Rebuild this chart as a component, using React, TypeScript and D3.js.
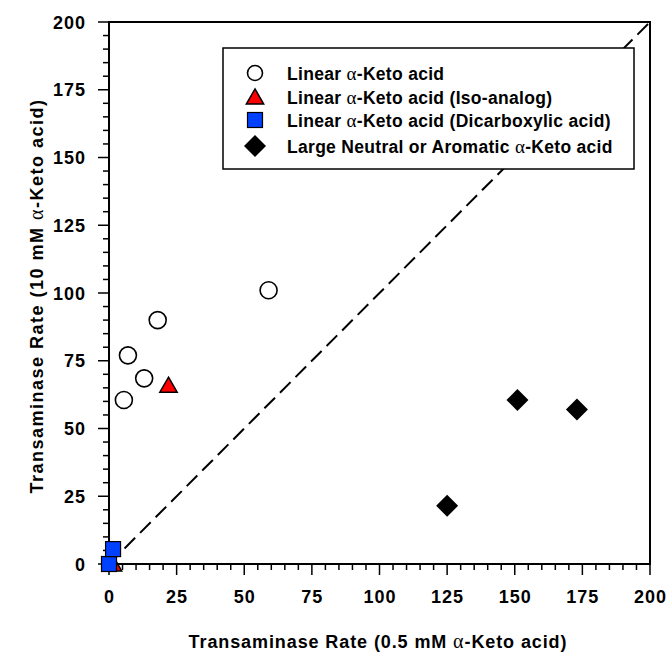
import React, { useEffect, useRef } from "react";
import * as d3 from "d3";

// values
const circlesX = [5.5, 7, 13, 18, 59];
const circlesY = [60.5, 77, 68.5, 90, 101];
const triangleX = [1.5, 22];
const triangleY = [0, 66];
const squareX = [0, 1.5];
const squareY = [0, 5.5];
const diamondX = [125, 151, 173];
const diamondY = [21.5, 60.5, 57];
const majorTicks = [0, 25, 50, 75, 100, 125, 150, 175, 200];
const minorTicks = d3.range(0, 201, 5);
const legendLabels = [
  ["Linear ", "α", "-Keto acid"],
  ["Linear ", "α", "-Keto acid (Iso-analog)"],
  ["Linear ", "α", "-Keto acid (Dicarboxylic acid)"],
  ["Large Neutral or Aromatic ", "α", "-Keto acid"],
];

const App = () => {
  const ref = useRef<SVGSVGElement>(null);

  useEffect(() => {
    const width = 669;
    const height = 653;
    const margin = { top: 22, right: 19, bottom: 89, left: 109 };
    const innerWidth = width - margin.left - margin.right;
    const innerHeight = height - margin.top - margin.bottom;

    const svg = d3.select(ref.current);
    svg.selectAll("*").remove();
    const g = svg.append("g").attr("transform", `translate(${margin.left}, ${margin.top})`);

    const xScale = d3.scaleLinear().domain([0, 200]).range([0, innerWidth]);
    const yScale = d3.scaleLinear().domain([0, 200]).range([innerHeight, 0]);
    const font = "Arial, 'Liberation Sans', sans-serif";
    const serif = "'Liberation Serif', 'DejaVu Serif', serif";

    // ticks (outside, minor every 5)
    g.selectAll(".xminor").data(minorTicks).enter().append("line")
      .attr("x1", d => xScale(d)).attr("x2", d => xScale(d))
      .attr("y1", innerHeight).attr("y2", d => innerHeight + (d % 25 === 0 ? 11 : 6))
      .attr("stroke", "#000").attr("stroke-width", 1.5);
    g.selectAll(".yminor").data(minorTicks).enter().append("line")
      .attr("y1", d => yScale(d)).attr("y2", d => yScale(d))
      .attr("x1", 0).attr("x2", d => (d % 25 === 0 ? -11 : -6))
      .attr("stroke", "#000").attr("stroke-width", 1.5);

    // tick labels
    g.selectAll(".xlab").data(majorTicks).enter().append("text")
      .attr("x", d => xScale(d) + 0.5).attr("y", innerHeight + 39)
      .attr("text-anchor", "middle").attr("font-family", font)
      .attr("font-weight", "bold").attr("font-size", "18px")
      .attr("letter-spacing", "1px").text(d => d);
    g.selectAll(".ylab").data(majorTicks).enter().append("text")
      .attr("x", -23).attr("y", d => yScale(d) + 6.5)
      .attr("text-anchor", "end").attr("font-family", font)
      .attr("font-weight", "bold").attr("font-size", "18px")
      .attr("letter-spacing", "1px").text(d => d);

    // frame
    g.append("rect").attr("width", innerWidth).attr("height", innerHeight)
      .attr("fill", "none").attr("stroke", "#000").attr("stroke-width", 2);

    // identity line
    g.append("line")
      .attr("x1", xScale(0)).attr("y1", yScale(0))
      .attr("x2", xScale(200)).attr("y2", yScale(200))
      .attr("stroke", "#000").attr("stroke-width", 2)
      .attr("stroke-dasharray", "15,7");

    const pts = (xs: number[], ys: number[]) => xs.map((x, i) => [x, ys[i]]);

    g.selectAll(".tri").data(pts(triangleX, triangleY)).enter().append("path")
      .attr("d", d3.symbol().type(d3.symbolTriangle).size(130))
      .attr("transform", d => `translate(${xScale(d[0])}, ${yScale(d[1]) + 2})`)
      .attr("fill", "#ff0000").attr("stroke", "#000").attr("stroke-width", 1.5);

    g.selectAll(".circ").data(pts(circlesX, circlesY)).enter().append("circle")
      .attr("cx", d => xScale(d[0])).attr("cy", d => yScale(d[1])).attr("r", 8.5)
      .attr("fill", "#fff").attr("stroke", "#000").attr("stroke-width", 1.6);

    g.selectAll(".sq").data(pts(squareX, squareY)).enter().append("rect")
      .attr("x", d => xScale(d[0]) - 7.5).attr("y", d => yScale(d[1]) - 7.5)
      .attr("width", 15).attr("height", 15)
      .attr("fill", "#0040ff").attr("stroke", "#000").attr("stroke-width", 1.2);

    g.selectAll(".dia").data(pts(diamondX, diamondY)).enter().append("path")
      .attr("d", "M0,-11L11,0L0,11L-11,0Z")
      .attr("transform", d => `translate(${xScale(d[0])}, ${yScale(d[1])})`)
      .attr("fill", "#000");

    // legend
    const lg = svg.append("g").attr("transform", "translate(223, 48)");
    lg.append("rect").attr("width", 411).attr("height", 121)
      .attr("fill", "#fff").attr("stroke", "#000").attr("stroke-width", 1.5);
    const rowY = [25, 49, 72, 98];
    const sx = 32;
    lg.append("circle").attr("cx", sx).attr("cy", rowY[0]).attr("r", 7.5)
      .attr("fill", "#fff").attr("stroke", "#000").attr("stroke-width", 1.6);
    lg.append("path").attr("d", d3.symbol().type(d3.symbolTriangle).size(130))
      .attr("transform", `translate(${sx}, ${rowY[1] + 2})`)
      .attr("fill", "#ff0000").attr("stroke", "#000").attr("stroke-width", 1.5);
    lg.append("rect").attr("x", sx - 7.5).attr("y", rowY[2] - 7.5).attr("width", 15).attr("height", 15)
      .attr("fill", "#0040ff").attr("stroke", "#000").attr("stroke-width", 1.2);
    lg.append("path").attr("d", "M0,-11L11,0L0,11L-11,0Z")
      .attr("transform", `translate(${sx}, ${rowY[3]})`).attr("fill", "#000");

    legendLabels.forEach((parts, i) => {
      const t = lg.append("text").attr("x", 64).attr("y", rowY[i] + 6.5)
        .attr("font-family", font).attr("font-weight", "bold").attr("font-size", "17.5px")
        .attr("letter-spacing", "0.3px");
      t.append("tspan").text(parts[0]);
      t.append("tspan").attr("font-family", serif)
        .attr("font-weight", "normal").attr("font-size", "19px").text(parts[1]);
      t.append("tspan").text(parts[2]);
    });

    // axis titles
    const xt = svg.append("text").attr("x", 378).attr("y", 648)
      .attr("text-anchor", "middle").attr("font-family", font)
      .attr("font-weight", "bold").attr("font-size", "18px").attr("letter-spacing", "0.9px");
    xt.append("tspan").text("Transaminase Rate (0.5 mM ");
    xt.append("tspan").attr("font-family", serif).attr("font-weight", "normal").attr("font-size", "20px").text("α");
    xt.append("tspan").text("-Keto acid)");

    const yt = svg.append("text").attr("transform", "translate(43, 296) rotate(-90)")
      .attr("text-anchor", "middle").attr("font-family", font)
      .attr("font-weight", "bold").attr("font-size", "18px").attr("letter-spacing", "1.5px");
    yt.append("tspan").text("Transaminase Rate (10 mM ");
    yt.append("tspan").attr("font-family", serif).attr("font-weight", "normal").attr("font-size", "20px").text("α");
    yt.append("tspan").text("-Keto acid)");
  }, []);

  return (
    <svg ref={ref} width={669} height={653}
      style={{ position: "absolute", left: 0, top: 0, background: "#fff" }} />
  );
};

export default App;
